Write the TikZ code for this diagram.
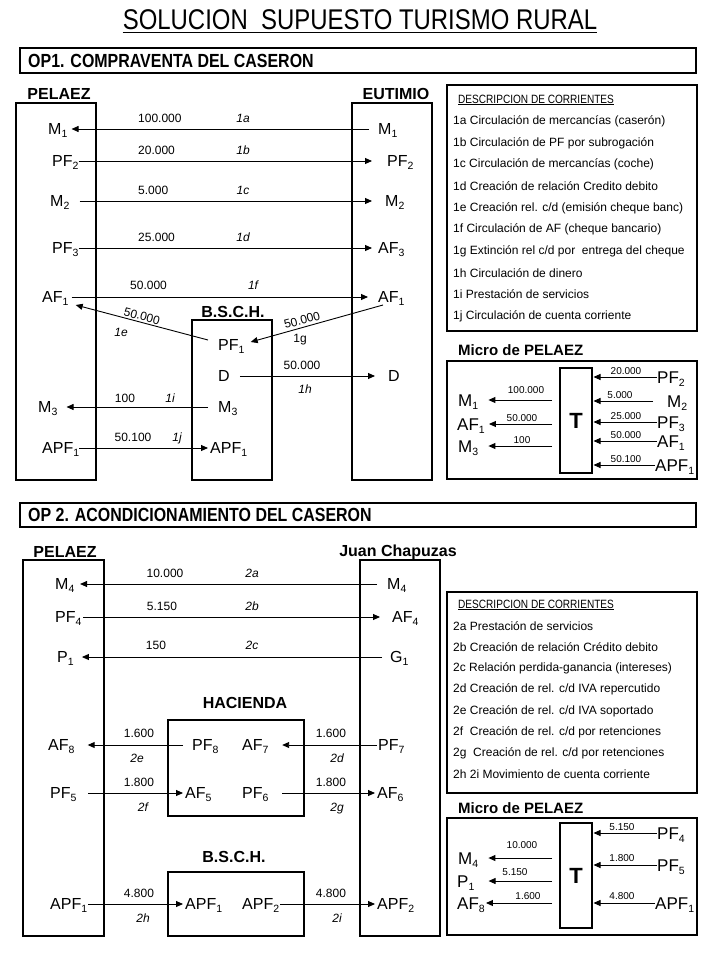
\documentclass[tikz,border=0pt]{standalone}
\usepackage{fontspec}
\setmainfont{Liberation Sans}
\newfontfamily\narrowfont[FakeStretch=0.84]{Liberation Sans}
\usetikzlibrary{arrows.meta}
\newcommand\sbs[1]{\raisebox{-3.2pt}{\fontsize{10.5}{10.5}\selectfont #1}}
\begin{document}
\begin{tikzpicture}[x=1pt,y=-1pt,
  lab/.style={font=\fontsize{16}{16}\selectfont, inner sep=0pt, text height=11.5pt, text depth=0pt, anchor=west},
  mlab/.style={lab, font=\fontsize{17}{17}\selectfont, text height=12.2pt},
  num/.style={font=\fontsize{12}{12}\selectfont, inner sep=0pt, text height=8.6pt, text depth=0pt},
  tag/.style={font=\fontsize{12}{12}\selectfont\itshape, inner sep=0pt, text height=8.6pt, text depth=0pt},
  mnum/.style={font=\fontsize{10}{10}\selectfont, inner sep=0pt, text height=7.2pt, text depth=0pt},
  ttl/.style={font=\fontsize{16}{16}\selectfont\bfseries, inner sep=0pt},
  hdr/.style={font=\narrowfont\fontsize{19}{19}\selectfont\bfseries, inner sep=0pt, anchor=west},
  desc/.style={font=\fontsize{12}{12}\selectfont, inner sep=0pt, anchor=west},
  dtitle/.style={font=\narrowfont\fontsize{12}{12}\selectfont, inner sep=0pt, anchor=west},
  boxs/.style={draw, line width=2pt},
  tbox/.style={draw, line width=2pt, minimum width=32pt, minimum height=105pt, inner sep=0pt, font=\fontsize{22}{22}\selectfont\bfseries},
  arr/.style={-{Triangle[length=7pt,width=6pt]}, line width=0.9pt}]
\fill[white] (0,0) rectangle (720,960);
\useasboundingbox (0,0) rectangle (720,960);

% title
\node[font=\narrowfont\fontsize{28.5}{28.5}\selectfont, inner sep=0pt, text height=20.4pt, text depth=0pt] (title) at (360,19) {SOLUCION\ \ SUPUESTO TURISMO RURAL};
\draw[line width=1pt] ([yshift=-3.5pt]title.south west) -- ([yshift=-3.5pt]title.south east);

% ================= OP1 =================
\draw[boxs] (20,48) rectangle (696,73);
\node[hdr] (op1) at (28,61) {OP1. COMPRAVENTA DEL CASERON};

\node[ttl] (pel1) at (59,94) {PELAEZ};
\node[ttl] (eut) at (396,94) {EUTIMIO};
\node[ttl] (bsch1) at (233,312) {B.S.C.H.};
\draw[boxs] (16,103) rectangle (96,480);
\draw[boxs] (352,103) rectangle (432,480);
\draw[boxs] (192,320) rectangle (272,480);

% left labels
\node[lab] (pM1) at (48,129) {M\sbs{1}};
\node[lab] (pPF2) at (52,161) {PF\sbs{2}};
\node[lab] (pM2) at (50,201) {M\sbs{2}};
\node[lab] (pPF3) at (52,248) {PF\sbs{3}};
\node[lab] (pAF1) at (42,297) {AF\sbs{1}};
\node[lab] (pM3) at (38,407) {M\sbs{3}};
\node[lab] (pAPF1) at (42,448) {APF\sbs{1}};
% right labels
\node[lab] (eM1) at (378,129) {M\sbs{1}};
\node[lab] (ePF2) at (387,161) {PF\sbs{2}};
\node[lab] (eM2) at (385,201) {M\sbs{2}};
\node[lab] (eAF3) at (378,248) {AF\sbs{3}};
\node[lab] (eAF1) at (378,297) {AF\sbs{1}};
\node[lab] (eD) at (388,376) {D};
% bank labels
\node[lab] (bPF1) at (218,345) {PF\sbs{1}};
\node[lab] (bD) at (218,376) {D};
\node[lab] (bM3) at (218,407) {M\sbs{3}};
\node[lab] (bAPF1) at (210,448) {APF\sbs{1}};

% arrows
\draw[arr, shorten <=9pt, shorten >=4pt] (eM1.west) -- (pM1.east);
\draw[arr, shorten >=15pt] (pPF2.east) -- (ePF2.west);
\draw[arr, shorten <=10pt, shorten >=13pt] (pM2.east) -- (eM2.west);
\draw[arr, shorten >=6pt] (pPF3.east) -- (eAF3.west);
\draw[arr, shorten <=3pt, shorten >=10pt] (pAF1.east) -- (eAF1.west);
\draw[arr] ([shift={(-10pt,5pt)}]bPF1.west) -- ([shift={(7pt,-8pt)}]pAF1.east);
\draw[arr] ([shift={(5pt,-8pt)}]eAF1.west) -- ([shift={(6pt,3pt)}]bPF1.east);
\draw[arr, shorten <=10pt, shorten >=13pt] (bD.east) -- (eD.west);
\draw[arr, shorten <=10pt, shorten >=9pt] (bM3.west) -- (pM3.east);
\draw[arr, shorten >=2pt] (pAPF1.east) -- (bAPF1.west);

% amounts and tags
\node[num, anchor=west] (n1a) at (138,118) {100.000};
\node[tag] (t1a) at (243,118) {1a};
\node[num, anchor=west] (n1b) at (138,150) {20.000};
\node[tag] (t1b) at (243,150) {1b};
\node[num, anchor=west] (n1c) at (138,190) {5.000};
\node[tag] (t1c) at (243,190) {1c};
\node[num, anchor=west] (n1d) at (138,237) {25.000};
\node[tag] (t1d) at (243,237) {1d};
\node[num, anchor=west] (n1f) at (130,285) {50.000};
\node[tag] (t1f) at (253,285) {1f};
\node[num, rotate=-15] (n1e) at (142,316) {50.000};
\node[tag] (t1e) at (121,332) {1e};
\node[num, rotate=15] (n1g) at (302,320) {50.000};
\node[num] (t1g) at (300,338) {1g};
\node[num] (n1h) at (302,365) {50.000};
\node[tag] (t1h) at (305,389) {1h};
\node[num] (n1i) at (125,398) {100};
\node[tag] (t1i) at (170,398) {1i};
\node[num] (n1j) at (133,437) {50.100};
\node[tag] (t1j) at (177,437) {1j};

% description 1
\draw[boxs] (447,85) rectangle (697,331);
\node[dtitle] (d1t) at (458,100) {\underline{DESCRIPCION DE CORRIENTES}};
\foreach \t [count=\i] in {1a Circulación de mercancías (caserón),
  1b Circulación de PF por subrogación,
  1c Circulación de mercancías (coche),
  1d Creación de relación Credito debito,
  1e Creación rel. c/d (emisión cheque banc),
  1f Circulación de AF (cheque bancario),
  1g Extinción rel c/d por\ \ entrega del cheque,
  1h Circulación de dinero,
  1i Prestación de servicios,
  1j Circulación de cuenta corriente}
  \node[desc] (d1-\i) at (453,{100+21.6*\i}) {\t};

% micro 1
\node[ttl, font=\fontsize{15}{15}\selectfont\bfseries, anchor=west] (mic1) at (458,350) {Micro de PELAEZ};
\draw[boxs] (447,361) rectangle (697,479);
\node[tbox] (T1) at (576,420.5) {T};
\node[mlab] (mM1) at (458,400) {M\sbs{1}};
\node[mlab] (mAF1) at (457,424) {AF\sbs{1}};
\node[mlab] (mM3) at (458,446) {M\sbs{3}};
\draw[arr, shorten <=7pt, shorten >=10pt] (mM1 -| T1.west) -- (mM1.east);
\draw[arr, shorten <=7pt, shorten >=4pt] (mAF1 -| T1.west) -- (mAF1.east);
\draw[arr, shorten <=7pt, shorten >=10pt] (mM3 -| T1.west) -- (mM3.east);
\node[mnum] (mn1) at (526,390) {100.000};
\node[mnum] (mn2) at (522,418) {50.000};
\node[mnum] (mn3) at (522,440) {100};
\node[mlab] (mPF2) at (657,377) {PF\sbs{2}};
\node[mlab] (mM2) at (667,401) {M\sbs{2}};
\node[mlab] (mPF3) at (657,422) {PF\sbs{3}};
\node[mlab] (mAF1r) at (657,441) {AF\sbs{1}};
\node[mlab] (mAPF1) at (655,465) {APF\sbs{1}};
\draw[arr, shorten >=0.5pt] (mPF2.west) -- (mPF2 -| T1.east);
\draw[arr, shorten <=14pt, shorten >=0.5pt] (mM2.west) -- (mM2 -| T1.east);
\draw[arr, shorten >=0.5pt] (mPF3.west) -- (mPF3 -| T1.east);
\draw[arr, shorten >=0.5pt] (mAF1r.west) -- (mAF1r -| T1.east);
\draw[arr, shorten >=0.5pt] (mAPF1.west) -- (mAPF1 -| T1.east);
\node[mnum] (mn4) at (626,371) {20.000};
\node[mnum] (mn5) at (620,395) {5.000};
\node[mnum] (mn6) at (626,416) {25.000};
\node[mnum] (mn7) at (626,435) {50.000};
\node[mnum] (mn8) at (626,459) {50.100};

% ================= OP2 =================
\draw[boxs] (20,503) rectangle (696,527);
\node[hdr] (op2) at (28,515) {OP 2. ACONDICIONAMIENTO DEL CASERON};

\node[ttl] (pel2) at (65,552) {PELAEZ};
\node[ttl] (juan) at (398,552) {Juan Chapuzas};
\node[ttl] (hac) at (245,703) {HACIENDA};
\node[ttl] (bsch2) at (234,857) {B.S.C.H.};
\draw[boxs] (23,560) rectangle (104,936);
\draw[boxs] (360,560) rectangle (440,936);
\draw[boxs] (168,720) rectangle (304,816);
\draw[boxs] (168,872) rectangle (304,936);

\node[lab] (qM4) at (55,584) {M\sbs{4}};
\node[lab] (qPF4) at (55,617) {PF\sbs{4}};
\node[lab] (qP1) at (57,657) {P\sbs{1}};
\node[lab] (jM4) at (387,584) {M\sbs{4}};
\node[lab] (jAF4) at (392,617) {AF\sbs{4}};
\node[lab] (jG1) at (390,657) {G\sbs{1}};
\node[lab] (qAF8) at (48,745) {AF\sbs{8}};
\node[lab] (qPF5) at (50,793) {PF\sbs{5}};
\node[lab] (qAPF1) at (50,904) {APF\sbs{1}};
\node[lab] (hPF8) at (192,745) {PF\sbs{8}};
\node[lab] (hAF7) at (242,745) {AF\sbs{7}};
\node[lab] (hAF5) at (185,793) {AF\sbs{5}};
\node[lab] (hPF6) at (242,793) {PF\sbs{6}};
\node[lab] (jPF7) at (378,745) {PF\sbs{7}};
\node[lab] (jAF6) at (377,793) {AF\sbs{6}};
\node[lab] (kAPF1) at (185,904) {APF\sbs{1}};
\node[lab] (kAPF2) at (242,904) {APF\sbs{2}};
\node[lab] (jAPF2) at (377,904) {APF\sbs{2}};

\draw[arr, shorten <=10pt, shorten >=5.5pt] (jM4.west) -- (qM4.east);
\draw[arr, shorten <=1.5pt, shorten >=12pt] (qPF4.east) -- (jAF4.west);
\draw[arr, shorten <=8pt, shorten >=8pt] (jG1.west) -- (qP1.east);
\draw[arr, shorten <=9pt, shorten >=13pt] (hPF8.west) -- (qAF8.east);
\draw[arr, shorten <=1pt, shorten >=13.5pt] (jPF7.west) -- (hAF7.east);
\draw[arr, shorten <=11.5pt, shorten >=2pt] (qPF5.east) -- (hAF5.west);
\draw[arr, shorten <=13.5pt, shorten >=2pt] (hPF6.east) -- (jAF6.west);
\draw[arr, shorten <=1pt, shorten >=2pt] (qAPF1.east) -- (kAPF1.west);
\draw[arr, shorten <=1pt, shorten >=2pt] (kAPF2.east) -- (jAPF2.west);

\node[num] (n2a) at (165,573) {10.000};
\node[tag] (t2a) at (252,573) {2a};
\node[num] (n2b) at (162,606) {5.150};
\node[tag] (t2b) at (252,606) {2b};
\node[num] (n2c) at (156,645) {150};
\node[tag] (t2c) at (252,645) {2c};
\node[num] (n2e) at (139,733) {1.600};
\node[tag] (t2e) at (137,758) {2e};
\node[num] (n2d) at (331,733) {1.600};
\node[tag] (t2d) at (337,758) {2d};
\node[num] (n2f) at (139,782) {1.800};
\node[tag] (t2f) at (143,807) {2f};
\node[num] (n2g) at (331,782) {1.800};
\node[tag] (t2g) at (337,807) {2g};
\node[num] (n2h) at (139,893) {4.800};
\node[tag] (t2h) at (143,918) {2h};
\node[num] (n2i) at (331,893) {4.800};
\node[tag] (t2i) at (337,918) {2i};

% description 2
\draw[boxs] (447,592) rectangle (697,793);
\node[dtitle] (d2t) at (458,605) {\underline{DESCRIPCION DE CORRIENTES}};
\foreach \t [count=\i] in {2a Prestación de servicios,
  2b Creación de relación Crédito debito,
  2c Relación perdida-ganancia (intereses),
  2d Creación de rel. c/d IVA repercutido,
  2e Creación de rel. c/d IVA soportado,
  2f\ \ Creación de rel. c/d por retenciones,
  2g\ \ Creación de rel. c/d por retenciones,
  2h 2i Movimiento de cuenta corriente}
  \node[desc] (d2-\i) at (453,{605+21.2*\i}) {\t};

% micro 2
\node[ttl, font=\fontsize{15}{15}\selectfont\bfseries, anchor=west] (mic2) at (458,808) {Micro de PELAEZ};
\draw[boxs] (447,818) rectangle (697,935);
\node[tbox] (T2) at (576,875.5) {T};
\node[mlab] (rM4) at (458,858) {M\sbs{4}};
\node[mlab] (rP1) at (457,881) {P\sbs{1}};
\node[mlab] (rAF8) at (457,903) {AF\sbs{8}};
\draw[arr, shorten <=7pt, shorten >=10pt] (rM4 -| T2.west) -- (rM4.east);
\draw[arr, shorten <=7pt, shorten >=14pt] (rP1 -| T2.west) -- (rP1.east);
\draw[arr, shorten <=7pt, shorten >=1pt] (rAF8 -| T2.west) -- (rAF8.east);
\node[mnum] (rn1) at (522,845) {10.000};
\node[mnum] (rn2) at (515,872) {5.150};
\node[mnum] (rn3) at (528,896) {1.600};
\node[mlab] (rPF4) at (657,833) {PF\sbs{4}};
\node[mlab] (rPF5) at (657,865) {PF\sbs{5}};
\node[mlab] (rAPF1) at (655,903) {APF\sbs{1}};
\draw[arr, shorten >=0.5pt] (rPF4.west) -- (rPF4 -| T2.east);
\draw[arr, shorten >=0.5pt] (rPF5.west) -- (rPF5 -| T2.east);
\draw[arr, shorten >=0.5pt] (rAPF1.west) -- (rAPF1 -| T2.east);
\node[mnum] (rn4) at (622,827) {5.150};
\node[mnum] (rn5) at (622,858) {1.800};
\node[mnum] (rn6) at (622,896) {4.800};
\end{tikzpicture}
\end{document}
